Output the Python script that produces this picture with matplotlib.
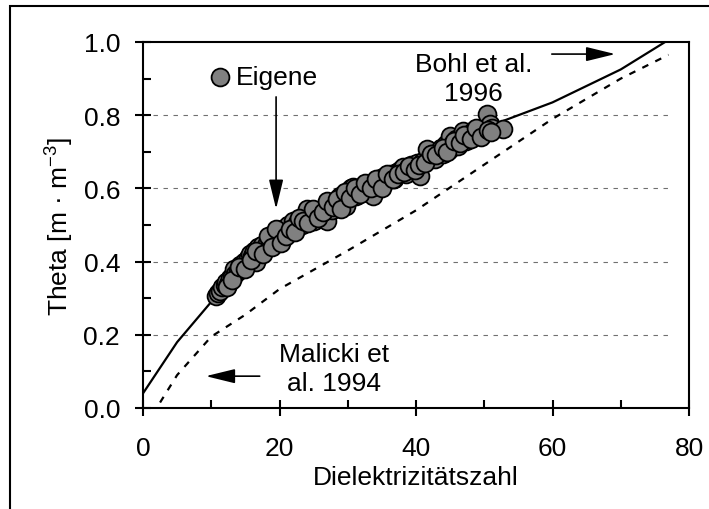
import numpy as np
import matplotlib
matplotlib.use("Agg")
import matplotlib.pyplot as plt
from matplotlib.patches import Rectangle

plt.rcParams["font.family"] = ["Liberation Sans", "DejaVu Sans"]
plt.rcParams["mathtext.fontset"] = "custom"
plt.rcParams["mathtext.rm"] = "Liberation Sans"

FS = 19

# Messwerte (Eigene)
eig_x = [10.7, 11.0, 11.3, 11.6, 12.0, 12.2, 12.5, 12.8, 13.0, 13.3, 13.5, 13.9,
         14.2, 14.5, 14.8, 15.1, 15.4, 15.7, 16.0, 16.3, 16.6, 16.9, 17.2, 17.5,
         17.8, 18.1, 18.4, 18.7, 19.0, 19.3, 19.6, 19.8, 20.1, 20.4, 20.7, 21.0,
         21.3, 21.6, 22.0, 22.3, 22.6, 23.0, 23.3, 23.7, 24.0, 24.3, 24.7, 25.0,
         25.4, 25.8, 26.2, 26.6, 26.9, 27.3, 27.7, 28.1, 28.5, 28.9, 29.3, 29.8,
         30.2, 30.5, 30.8, 31.2, 31.6, 32.0, 32.4, 32.8, 33.2, 33.7, 34.0, 34.4,
         34.8, 35.2, 35.6, 36.0, 36.4, 36.8, 37.2, 37.6, 38.1, 38.5, 38.9, 39.3,
         39.7, 40.1, 40.6, 41.0, 41.6, 42.0, 42.4, 42.8, 43.2, 43.6, 44.0, 44.4,
         44.8, 45.0, 45.4, 45.8, 46.2, 46.6, 46.9, 47.3, 47.7, 48.1, 48.5, 48.9,
         49.3, 49.7, 50.1, 50.4, 50.8, 51.2, 52.8,
         12.3, 13.1, 14.0, 15.0, 15.8, 16.5, 17.6, 18.3, 18.9, 19.5, 20.2, 20.9,
         21.5, 22.2, 22.8, 23.5, 24.2, 24.9, 25.6, 26.4, 27.0, 27.8, 28.4, 29.0,
         29.6, 30.4, 31.0, 31.8, 32.6, 33.4, 34.2, 35.0, 35.8, 36.6, 37.4, 38.2,
         39.0, 39.8, 40.5, 41.3, 42.2, 43.0, 43.9, 44.6, 45.6, 46.4, 47.1, 48.0,
         48.8, 49.5, 50.6, 51.0]
eig_y = [0.305, 0.315, 0.32, 0.33, 0.335, 0.345, 0.34, 0.355, 0.36, 0.38, 0.365, 0.375,
         0.39, 0.38, 0.40, 0.395, 0.41, 0.42, 0.415, 0.43, 0.40, 0.44, 0.425, 0.445,
         0.435, 0.45, 0.443, 0.46, 0.455, 0.475, 0.485, 0.47, 0.46, 0.49, 0.475, 0.48,
         0.50, 0.485, 0.51, 0.495, 0.505, 0.515, 0.50, 0.525, 0.545, 0.52, 0.53, 0.51,
         0.535, 0.525, 0.545, 0.55, 0.512, 0.56, 0.54, 0.565, 0.555, 0.58, 0.57, 0.553,
         0.585, 0.60, 0.603, 0.58, 0.595, 0.60, 0.59, 0.61, 0.605, 0.58, 0.615, 0.625,
         0.61, 0.63, 0.62, 0.635, 0.64, 0.625, 0.645, 0.65, 0.658, 0.64, 0.655, 0.665,
         0.66, 0.67, 0.635, 0.675, 0.708, 0.685, 0.695, 0.68, 0.70, 0.71, 0.695, 0.72,
         0.705, 0.744, 0.725, 0.735, 0.715, 0.74, 0.758, 0.73, 0.75, 0.74, 0.76, 0.745,
         0.755, 0.75, 0.77, 0.803, 0.775, 0.765, 0.762,
         0.33, 0.35, 0.385, 0.38, 0.405, 0.43, 0.42, 0.47, 0.44, 0.49, 0.45, 0.47,
         0.49, 0.48, 0.52, 0.51, 0.505, 0.545, 0.52, 0.535, 0.565, 0.55, 0.57, 0.545,
         0.59, 0.575, 0.60, 0.585, 0.615, 0.60, 0.625, 0.60, 0.64, 0.625, 0.64, 0.645,
         0.66, 0.65, 0.665, 0.67, 0.695, 0.69, 0.71, 0.70, 0.73, 0.725, 0.745, 0.735,
         0.765, 0.74, 0.76, 0.755]

# Bohl et al. 1996
bohl_x = [0, 5, 10, 20, 30, 40, 50, 60, 70, 76.5]
bohl_y = [0.04, 0.18, 0.29, 0.45, 0.575, 0.675, 0.765, 0.835, 0.925, 1.0]

# Malicki et al. 1994
mal_x = [2.5, 5, 10, 15, 20, 30, 40, 50, 60, 70, 77]
mal_y = [0.015, 0.09, 0.195, 0.255, 0.325, 0.43, 0.54, 0.665, 0.79, 0.9, 0.965]

grid_y = [0.2, 0.4, 0.6, 0.8]

fig = plt.figure(figsize=(7.09, 5.10), dpi=100)
ax = fig.add_axes([143 / 709, 1 - 409 / 510, 546 / 709, 366 / 510])

# Rahmen um die Abbildung
fig.patches.append(Rectangle((10 / 709, -0.2), 1.2, 1.2 - 7 / 510,
                             transform=fig.transFigure, fill=False,
                             edgecolor="black", linewidth=1.5))

ax.hlines(grid_y, 0, 77.7, colors="#707070", linestyles=(0, (4, 5)), linewidth=0.8, zorder=1)

ax.plot(bohl_x, bohl_y, color="black", linewidth=1.6, zorder=2)
ax.plot(mal_x, mal_y, color="black", linewidth=1.6, linestyle=(0, (3, 3.5)), zorder=2)
ax.scatter(eig_x, eig_y, s=165, c="#808080", edgecolors="black", linewidths=1.3,
           zorder=3, label="Eigene")

ax.set_xlim(0, 80)
ax.set_ylim(0, 1.0)
ax.set_xticks([0, 20, 40, 60, 80])
ax.set_xticks([10, 30, 50, 70], minor=True)
ax.set_yticks([0.0, 0.2, 0.4, 0.6, 0.8, 1.0])
ax.set_yticks([0.1, 0.3, 0.5, 0.7, 0.9], minor=True)
ax.yaxis.set_major_formatter(matplotlib.ticker.FormatStrFormatter("%.1f"))
ax.tick_params(which="major", direction="inout", length=11, width=1.5, labelsize=FS)
ax.tick_params(axis="x", which="major", pad=15)
ax.tick_params(axis="y", which="major", pad=11)
ax.tick_params(which="minor", direction="in", length=6, width=1.5)
for sp in ax.spines.values():
    sp.set_linewidth(1.5)

ax.set_xlabel("Dielektrizitätszahl", fontsize=FS, labelpad=3)
ax.set_ylabel("Theta [m · m$^{\\mathregular{-3}}$]", fontsize=FS, labelpad=6)

ax.legend(loc="center left", bbox_to_anchor=(0.12, 0.904), frameon=False,
          fontsize=FS, handlelength=0.9, handletextpad=0.15, borderpad=0,
          borderaxespad=0, markerscale=1.0)

arrow = dict(arrowstyle="-|>,head_length=0.9,head_width=0.22", color="black",
             linewidth=1.2, mutation_scale=20, shrinkA=0, shrinkB=0)
ax.annotate("", xy=(19.5, 0.544), xytext=(19.5, 0.85), arrowprops=arrow)
ax.annotate("", xy=(69.2, 0.967), xytext=(59.9, 0.967), arrowprops=arrow)
ax.annotate("", xy=(9.2, 0.087), xytext=(17.1, 0.087), arrowprops=arrow)

ax.text(48.4, 0.90, "Bohl et al.\n1996", fontsize=FS, ha="center", va="center",
        linespacing=1.25)
ax.text(28.0, 0.107, "Malicki et\nal. 1994", fontsize=FS, ha="center", va="center",
        linespacing=1.25)

fig.savefig("out.png", dpi=100)
